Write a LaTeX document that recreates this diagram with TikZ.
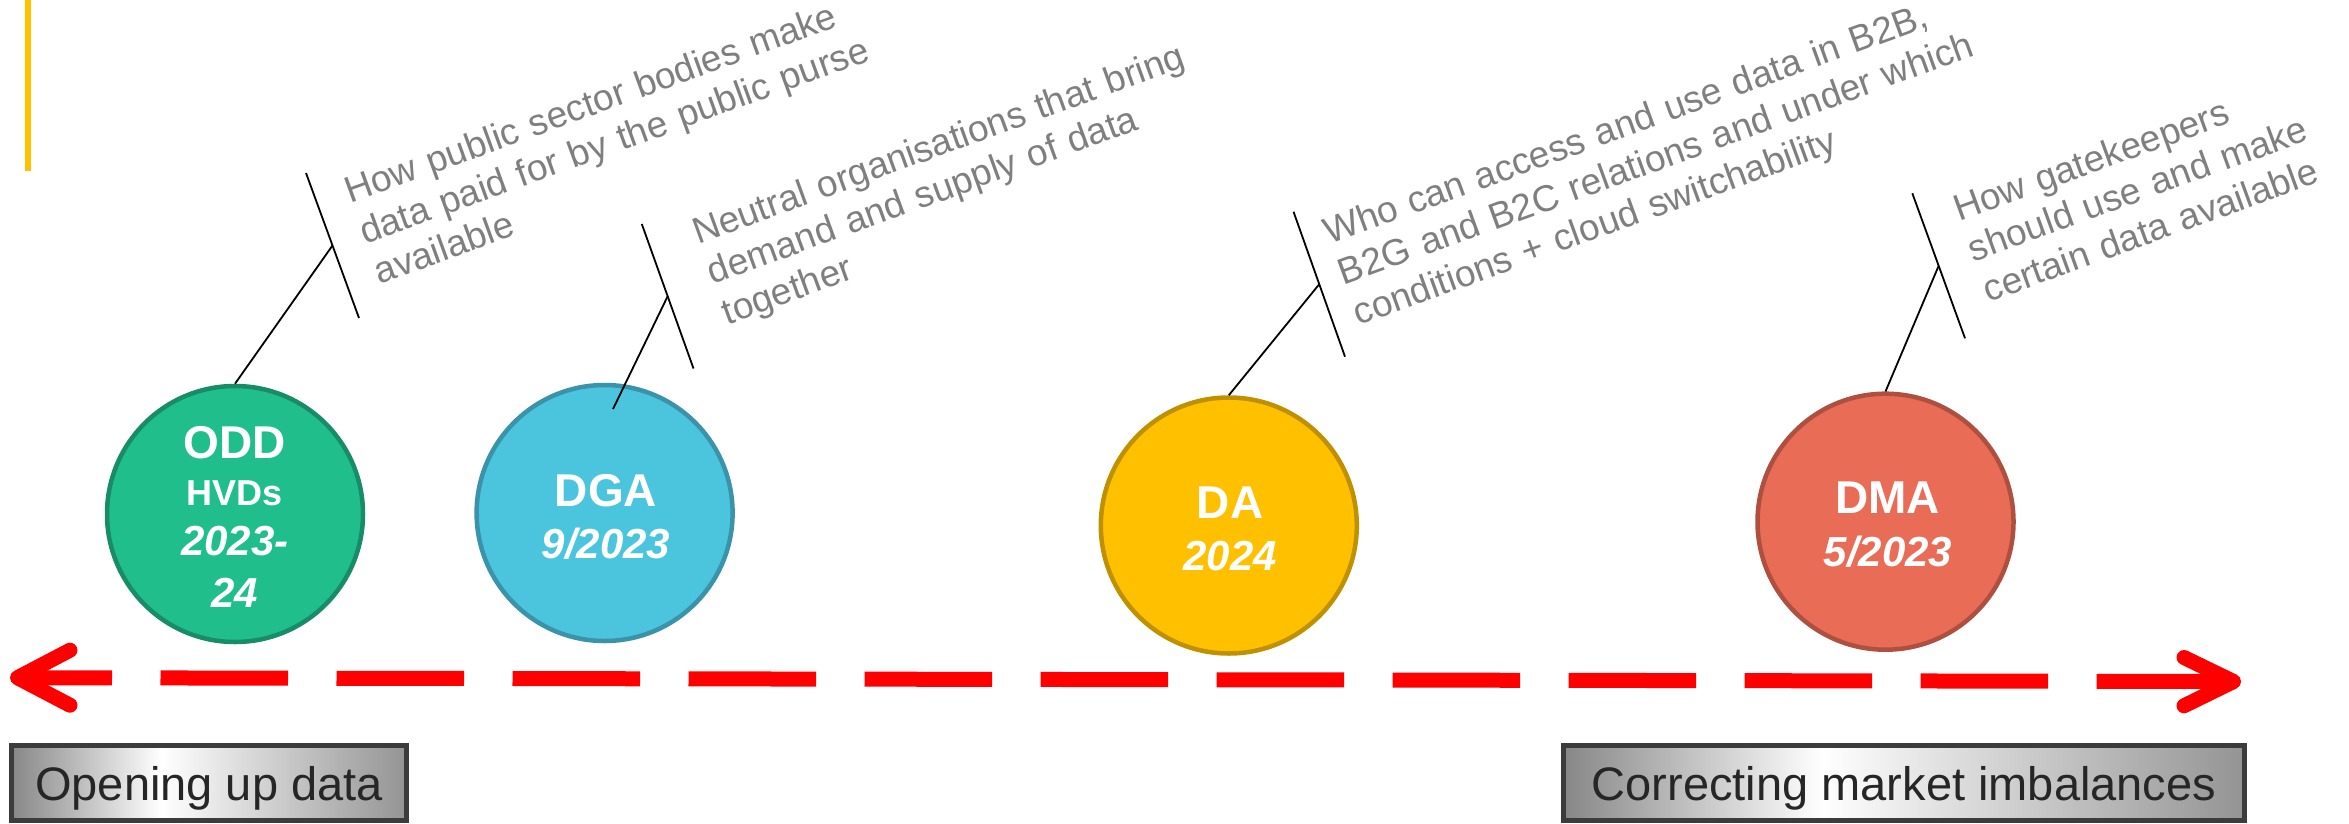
\documentclass[tikz,border=0pt]{standalone}
\usepackage{fontspec}
\setmainfont{Liberation Sans}
\usetikzlibrary{calc}
\definecolor{oddfill}{HTML}{1FBE8B}
\definecolor{odddraw}{HTML}{178C66}
\definecolor{dgafill}{HTML}{4BC4DE}
\definecolor{dgadraw}{HTML}{3A93A9}
\definecolor{dafill}{HTML}{FFC000}
\definecolor{dadraw}{HTML}{BF9000}
\definecolor{dmafill}{HTML}{E86C56}
\definecolor{dmadraw}{HTML}{AE503F}
\definecolor{descgray}{HTML}{7F7F7F}
\definecolor{barY}{HTML}{FFC000}
\definecolor{boxline}{HTML}{3C3C3C}
\definecolor{boxtext}{HTML}{262626}
\definecolor{boxL}{HTML}{878787}
\definecolor{boxR}{HTML}{949494}
\definecolor{arrowred}{HTML}{FF0000}
\begin{document}
\begin{tikzpicture}[x=1pt,y=-1pt,
  milestone/.style={circle, minimum size=256pt, inner sep=0pt, line width=4.5pt},
  ttl/.style={anchor=base, text=white, inner sep=0pt, font=\fontsize{46pt}{50pt}\selectfont\bfseries},
  sub/.style={anchor=base, text=white, inner sep=0pt, font=\fontsize{36pt}{40pt}\selectfont\bfseries},
  datelbl/.style={anchor=base, text=white, inner sep=0pt, font=\fontsize{42pt}{46pt}\selectfont\bfseries\itshape},
  desctext/.style={anchor=base west, inner sep=0pt, text=descgray, text width=#1, align=left, rotate=20, font=\fontsize{37pt}{43pt}\selectfont},
  bracket/.style={draw=black, line width=1.8pt},
  leader/.style={draw=black, line width=1.8pt},
  timeline/.style={draw=arrowred, line width=15pt, line cap=butt,
    dash pattern=on 94.5pt off 48.5pt on 127.5pt off 48.5pt on 127.5pt off 48.5pt on 127.5pt off 48.5pt on 127.5pt off 48.5pt on 127.5pt off 48.5pt on 127.5pt off 48.5pt on 127.5pt off 48.5pt on 127.5pt off 48.5pt on 127.5pt off 48.5pt on 127.5pt off 48.5pt on 127.5pt off 48.5pt on 400pt off 10pt},
  chev/.style={draw=arrowred, line width=15pt, line cap=round, line join=round},
  phasebox/.style={draw=boxline, line width=5pt, rectangle, minimum height=75pt, inner sep=0pt,
    text=boxtext, font=\fontsize{47pt}{50pt}\selectfont, text height=38pt, text depth=2.6pt,
    path picture={
      \coordinate (ppsw) at (path picture bounding box.south west);
      \coordinate (ppne) at (path picture bounding box.north east);
      \coordinate (ppm) at ($(ppsw)!0.38!(ppne)$);
      \fill[left color=boxL, right color=white] (ppsw) rectangle (ppm |- ppne);
      \fill[left color=white, right color=boxR] (ppm |- ppsw) rectangle (ppne);
    }},
]
\useasboundingbox (0,0) rectangle (2349,824);

% yellow accent bar
\coordinate (barTop) at (28,0);
\coordinate (barBot) at (28,170.7);
\draw[draw=barY, line width=5.5pt] (barTop) -- (barBot);

% milestones
\node[milestone, fill=oddfill, draw=odddraw] (odd) at (235,514) {};
\node[milestone, fill=dgafill, draw=dgadraw] (dga) at (604.6,513) {};
\node[milestone, fill=dafill, draw=dadraw] (da) at (1228.8,525.5) {};
\node[milestone, fill=dmafill, draw=dmadraw] (dma) at (1885.5,521.7) {};

\node[ttl] (oddA) at (235,458) {ODD};
\node[sub] (oddB) at (235,505) {HVDs};
\node[datelbl] (oddC) at (235,555) {2023-};
\node[datelbl] (oddD) at (235,607) {24};

\node[ttl] (dgaA) at (606,506) {DGA};
\node[datelbl] (dgaB) at (606,558.3) {9/2023};

\node[ttl] (daA) at (1230,518.3) {DA};
\node[datelbl] (daB) at (1230,570.7) {2024};

\node[ttl] (dmaA) at (1887.5,513.3) {DMA};
\node[datelbl] (dmaB) at (1888,566.7) {5/2023};

% callouts
\coordinate (oddP1) at (306,173);
\coordinate (oddP2) at (359,318);
\coordinate (oddPm) at ($(oddP1)!0.5!(oddP2)$);
\draw[bracket] (oddP1) -- (oddP2);
\draw[leader] (oddPm) -- (odd.north);
\node[desctext=540pt] (oddtxt) at (350.2,204) {How public sector bodies make\\data paid for by the public purse\\available};

\coordinate (dgaP1) at (641.8,224);
\coordinate (dgaP2) at (693.5,368.5);
\coordinate (dgaPm) at ($(dgaP1)!0.5!(dgaP2)$);
\coordinate (dgaEnd) at (613,409);
\draw[bracket] (dgaP1) -- (dgaP2);
\draw[leader] (dgaPm) -- (dgaEnd);
\node[desctext=530pt] (dgatxt) at (698,244.3) {Neutral organisations that bring\\demand and supply of data\\together};

\coordinate (daP1) at (1293.5,211.7);
\coordinate (daP2) at (1345,356.7);
\coordinate (daPm) at ($(daP1)!0.5!(daP2)$);
\draw[bracket] (daP1) -- (daP2);
\draw[leader] (daPm) -- (da.north);
\node[desctext=690pt] (datxt) at (1329,245) {Who can access and use data in B2B,\\B2G and B2C relations and under which\\conditions + cloud switchability};

\coordinate (dmaP1) at (1912.3,193.3);
\coordinate (dmaP2) at (1965,338.3);
\coordinate (dmaPm) at ($(dmaP1)!0.5!(dmaP2)$);
\draw[bracket] (dmaP1) -- (dmaP2);
\draw[leader] (dmaPm) -- (dma.north);
\node[desctext=360pt] (dmatxt) at (1959,221.7) {How gatekeepers\\should use and make\\certain data available};

% timeline arrow
\coordinate (aL) at (17.5,677.7);
\coordinate (aR) at (2233.5,681.5);
\coordinate (aLu) at (70,650.2);
\coordinate (aLd) at (70,705.2);
\coordinate (aRu) at (2184,657.5);
\coordinate (aRd) at (2184,705.8);
\draw[timeline] (aL) -- (aR);
\draw[chev] (aLu) -- (aL) -- (aLd);
\draw[chev] (aRu) -- (aR) -- (aRd);

% phase boxes
\node[phasebox, minimum width=395pt] (open) at (209,783) {Opening up data};
\node[phasebox, minimum width=681pt] (correct) at (1904,783) {Correcting market imbalances};
\end{tikzpicture}
\end{document}
